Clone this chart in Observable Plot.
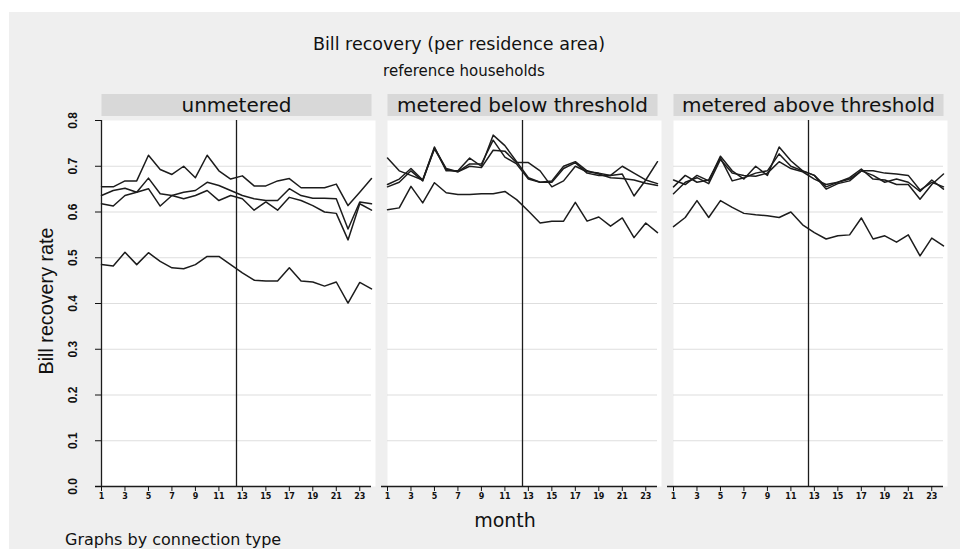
<!DOCTYPE html>
<html>
<head>
<meta charset="utf-8">
<script src="https://cdn.jsdelivr.net/npm/d3@7"></script>
<script src="https://cdn.jsdelivr.net/npm/@observablehq/plot@0.6"></script>
<style>
  body { margin: 0; background: #fff; }
  #chart { width: 960px; height: 549px; }
</style>
</head>
<body>
<div id="chart"></div>
<script>
// Connection types (one panel each) and the monthly axis
const connectionTypes = ["unmetered", "metered below threshold", "metered above threshold"];
const months = [1, 2, 3, 4, 5, 6, 7, 8, 9, 10, 11, 12, 13, 14, 15, 16, 17, 18, 19, 20, 21, 22, 23, 24];
const monthTicks = [1, 3, 5, 7, 9, 11, 13, 15, 17, 19, 21, 23];
const rateTicks = [0, 0.1, 0.2, 0.3, 0.4, 0.5, 0.6, 0.7, 0.8];
const gridTicks = [0.1, 0.2, 0.3, 0.4, 0.5, 0.6, 0.7];
const changeMonth = 12.5;

// Bill recovery rate by residence area, unmetered connections
const unmeteredArea1 = [0.655, 0.655, 0.668, 0.668, 0.724, 0.693, 0.682, 0.700, 0.675, 0.724, 0.690, 0.672, 0.679, 0.657, 0.657, 0.668, 0.673, 0.653, 0.653, 0.653, 0.661, 0.614, 0.643, 0.673];
const unmeteredArea2 = [0.636, 0.647, 0.652, 0.643, 0.674, 0.640, 0.636, 0.643, 0.647, 0.665, 0.658, 0.647, 0.636, 0.629, 0.625, 0.625, 0.651, 0.636, 0.630, 0.630, 0.629, 0.563, 0.622, 0.618];
const unmeteredArea3 = [0.618, 0.613, 0.636, 0.643, 0.651, 0.613, 0.636, 0.629, 0.636, 0.647, 0.625, 0.636, 0.629, 0.604, 0.622, 0.604, 0.632, 0.625, 0.614, 0.600, 0.597, 0.539, 0.618, 0.604];
const unmeteredArea4 = [0.485, 0.482, 0.512, 0.485, 0.511, 0.492, 0.478, 0.476, 0.485, 0.503, 0.503, 0.485, 0.467, 0.451, 0.449, 0.449, 0.478, 0.449, 0.447, 0.438, 0.447, 0.401, 0.446, 0.432];

// Metered, consumption below threshold
const belowArea1 = [0.718, 0.690, 0.680, 0.670, 0.738, 0.693, 0.688, 0.700, 0.697, 0.735, 0.733, 0.708, 0.708, 0.690, 0.655, 0.668, 0.700, 0.688, 0.685, 0.680, 0.700, 0.685, 0.670, 0.662];
const belowArea2 = [0.660, 0.672, 0.695, 0.670, 0.742, 0.690, 0.690, 0.718, 0.700, 0.768, 0.745, 0.710, 0.675, 0.665, 0.665, 0.695, 0.708, 0.685, 0.680, 0.680, 0.683, 0.635, 0.670, 0.710];
const belowArea3 = [0.655, 0.665, 0.690, 0.668, 0.740, 0.695, 0.688, 0.705, 0.705, 0.757, 0.720, 0.705, 0.672, 0.665, 0.668, 0.700, 0.710, 0.690, 0.683, 0.675, 0.673, 0.670, 0.663, 0.658];
const belowArea4 = [0.605, 0.609, 0.656, 0.620, 0.664, 0.642, 0.638, 0.638, 0.640, 0.640, 0.645, 0.627, 0.602, 0.576, 0.580, 0.580, 0.621, 0.580, 0.589, 0.569, 0.587, 0.544, 0.576, 0.555];

// Metered, consumption above threshold
const aboveArea1 = [0.670, 0.660, 0.680, 0.668, 0.722, 0.690, 0.672, 0.700, 0.680, 0.742, 0.712, 0.690, 0.680, 0.655, 0.665, 0.675, 0.694, 0.672, 0.670, 0.660, 0.660, 0.628, 0.660, 0.683];
const aboveArea2 = [0.655, 0.680, 0.665, 0.670, 0.718, 0.668, 0.675, 0.685, 0.690, 0.727, 0.700, 0.690, 0.680, 0.650, 0.662, 0.668, 0.690, 0.690, 0.685, 0.683, 0.680, 0.648, 0.665, 0.655];
const aboveArea3 = [0.640, 0.665, 0.675, 0.662, 0.715, 0.685, 0.680, 0.678, 0.685, 0.710, 0.695, 0.688, 0.672, 0.660, 0.665, 0.672, 0.690, 0.680, 0.665, 0.672, 0.665, 0.645, 0.670, 0.650];
const aboveArea4 = [0.568, 0.588, 0.625, 0.588, 0.625, 0.610, 0.597, 0.594, 0.592, 0.588, 0.600, 0.572, 0.555, 0.541, 0.548, 0.550, 0.587, 0.541, 0.548, 0.534, 0.550, 0.504, 0.543, 0.526];

const seriesByType = [
  [unmeteredArea1, unmeteredArea2, unmeteredArea3, unmeteredArea4],
  [belowArea1, belowArea2, belowArea3, belowArea4],
  [aboveArea1, aboveArea2, aboveArea3, aboveArea4]
];

// Long-format table: one row per type, area and month
const rows = [];
seriesByType.forEach((areas, t) => {
  areas.forEach((values, a) => {
    values.forEach((rate, i) => {
      rows.push({type: connectionTypes[t], area: `area ${a + 1}`, month: months[i], rate});
    });
  });
});

const ink = "#1c1c1c";

const plot = Plot.plot({
  width: 960,
  height: 549,
  marginLeft: 100,
  marginRight: 17,
  marginTop: 120,
  marginBottom: 63,
  style: {background: "#fff", fontFamily: "DejaVu Sans", color: "#111"},
  fx: {domain: connectionTypes, paddingInner: 16.5 / 286.5, paddingOuter: 0, label: null},
  x: {domain: [months[0], months[months.length - 1]]},
  y: {domain: [rateTicks[0], rateTicks[rateTicks.length - 1]]},
  marks: [
    Plot.frame({fill: "#fff", stroke: "none", insetRight: -4}),
    Plot.gridY(gridTicks, {stroke: "#dedede", strokeOpacity: 1, strokeWidth: 1.2}),
    Plot.ruleX([changeMonth], {stroke: ink, strokeWidth: 1.3}),
    Plot.line(rows, {x: "month", y: "rate", z: "area", fx: "type", stroke: ink, strokeWidth: 1.5}),
    Plot.ruleX([{type: connectionTypes[0], month: months[0]}], {x: "month", fx: "type", y1: rateTicks[0], y2: rateTicks[rateTicks.length - 1], stroke: ink, strokeWidth: 1.3}),
    Plot.ruleY([0], {stroke: ink, strokeWidth: 1.4, insetLeft: -6}),
    Plot.axisY(rateTicks, {tickFormat: d3.format(".1f"), tickRotate: -90, tickSize: 6, tickPadding: 19, fontSize: 12, fontWeight: "bold", fontFamily: "Liberation Sans", label: null}),
    Plot.axisX(monthTicks, {tickSize: 5, tickPadding: 2, fontSize: 8, fontWeight: "bold", label: null}),
    Plot.axisFx({anchor: "top", tickSize: 0, tickPadding: 15, lineAnchor: "middle", fontSize: 20, label: null})
  ]
});

document.getElementById("chart").appendChild(plot);

const svg = d3.select(plot);
const svgBox = plot.getBoundingClientRect();

// Grey field behind the whole graph
svg.insert("rect", ":first-child")
  .attr("x", 9).attr("y", 12).attr("width", 951).attr("height", 537)
  .attr("fill", "#efefef");

// Panel header strips, aligned with each facet frame
const frames = Array.from(plot.querySelectorAll('g[aria-label="frame"] rect'));
const strips = svg.insert("g", "style").attr("aria-label", "strips");
frames.forEach((el) => {
  const b = el.getBoundingClientRect();
  strips.append("rect")
    .attr("x", b.left - svgBox.left)
    .attr("y", 94)
    .attr("width", b.width - 4)
    .attr("height", 22)
    .attr("fill", "#d8d8d8");
});

// Titles, axis titles and note
const addText = (txt, x, y, size, opts = {}) => {
  const t = svg.append("text")
    .attr("x", x).attr("y", y)
    .attr("text-anchor", "middle")
    .attr("dominant-baseline", "central")
    .attr("font-family", opts.family || "DejaVu Sans")
    .attr("font-size", size)
    .attr("fill", "#111")
    .text(txt);
  if (opts.anchor) t.attr("text-anchor", opts.anchor);
  if (opts.length) t.attr("textLength", opts.length).attr("lengthAdjust", "spacingAndGlyphs");
  if (opts.transform) t.attr("transform", opts.transform);
  return t;
};

addText("Bill recovery (per residence area)", 459, 44, 17.5);
addText("reference households", 464, 71, 15);
addText("month", 505, 520, 19);
addText("Graphs by connection type", 65, 539, 16, {anchor: "start"});
addText("Bill recovery rate", 0, 0, 21, {family: "Liberation Sans", length: 147, transform: "translate(45,301) rotate(-90)"});
</script>
</body>
</html>
